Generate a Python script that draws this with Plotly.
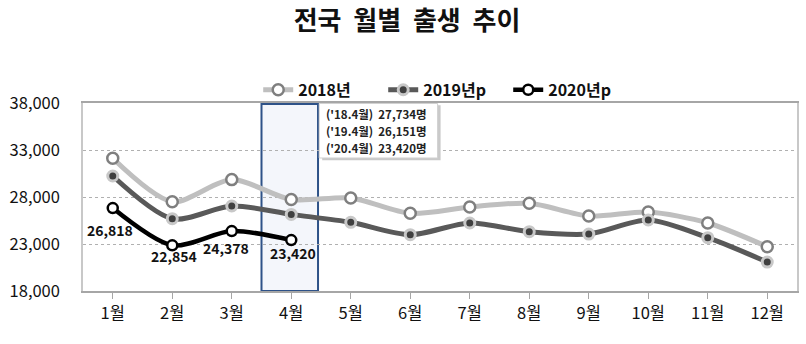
import plotly.graph_objects as go

# Monthly births, nationwide
months = ["1월", "2월", "3월", "4월", "5월", "6월", "7월", "8월", "9월", "10월", "11월", "12월"]
births_2018 = [32117, 27500, 29850, 27734, 27894, 26263, 26936, 27328, 25977, 26403, 25234, 22710]
births_2019 = [30234, 25690, 27041, 26151, 25306, 23987, 25234, 24307, 24061, 25551, 23668, 21082]
births_2020 = [26818, 22854, 24378, 23420]
y_ticks = [18000, 23000, 28000, 33000, 38000]

x_pos = list(range(1, 13))
FONT = "Noto Sans CJK KR"

fig = go.Figure()

fig.add_trace(go.Scatter(
    x=x_pos, y=births_2018, name="2018년", mode="lines+markers",
    line=dict(color="#bfbfbf", width=5, shape="spline", smoothing=0.8),
    marker=dict(symbol="circle", size=11, color="white", line=dict(color="#7f7f7f", width=2.5)),
))
fig.add_trace(go.Scatter(
    x=x_pos, y=births_2019, name="2019년p", mode="lines+markers",
    line=dict(color="#595959", width=5, shape="spline", smoothing=0.8),
    marker=dict(symbol="circle", size=10, color="#404040", line=dict(color="#c8c8c8", width=3)),
))
fig.add_trace(go.Scatter(
    x=x_pos[:len(births_2020)], y=births_2020, name="2020년p", mode="lines+markers",
    line=dict(color="#000000", width=4.5, shape="spline", smoothing=0.8),
    marker=dict(symbol="circle", size=10, color="white", line=dict(color="#000000", width=2.5)),
))

# value labels for 2020
label_offsets = [(-3, -22), (2, -11), (-6, -17), (2, -13)]
for i, v in enumerate(births_2020):
    dx, dy = label_offsets[i]
    fig.add_annotation(
        x=x_pos[i], y=v, text=f"{v:,}", showarrow=False,
        xshift=dx, yshift=dy,
        font=dict(family=FONT, size=14, color="#111111", weight="bold"),
    )

# highlighted April column
fig.add_shape(type="rect", xref="x", yref="y", x0=3.5, x1=4.45, y0=18000, y1=37900,
              fillcolor="#f4f6fb", line=dict(color="#2e5288", width=2), layer="below")

# April comparison box (shadow + box)
fig.add_shape(type="rect", xref="x", yref="y", x0=4.52, x1=6.51, y0=31900, y1=37750,
              fillcolor="#c9c9c9", line=dict(width=0), layer="above")
fig.add_shape(type="rect", xref="x", yref="y", x0=4.47, x1=6.46, y0=32150, y1=37950,
              fillcolor="white", line=dict(color="#d0d0d0", width=1), layer="above")
apr = [("'18.4월", births_2018[3]), ("'19.4월", births_2019[3]), ("'20.4월", births_2020[3])]
for k, (lab, v) in enumerate(apr):
    fig.add_annotation(
        x=4.55, y=36850 - k * 1800, xanchor="left", showarrow=False,
        text=f"({lab})  {v:,}명",
        font=dict(family=FONT, size=11.5, color="#222222", weight="bold"),
    )

fig.update_layout(
    width=806, height=344,
    margin=dict(l=83, r=7, t=103, b=53),
    paper_bgcolor="white", plot_bgcolor="white",
    title=dict(text="전국  월별  출생  추이", x=0.505, xanchor="center", y=0.938, yanchor="middle",
               font=dict(family=FONT, size=26, color="#111111", weight="bold")),
    legend=dict(orientation="h", x=0.508, xanchor="center", y=1.07, yanchor="middle",
                font=dict(family=FONT, size=16, color="#111111", weight="bold"),
                bgcolor="rgba(0,0,0,0)", itemwidth=30, tracegroupgap=0,
                entrywidth=80, entrywidthmode="pixels"),
    showlegend=True,
)

fig.update_xaxes(
    range=[0.5, 12.5], tickmode="array", tickvals=x_pos, ticktext=months,
    showgrid=False, zeroline=False,
    showline=True, linecolor="#a6a6a6", linewidth=1.5, mirror=True,
    ticks="outside", ticklen=6, tickcolor="#a6a6a6",
    tickfont=dict(family=FONT, size=16.5, color="#111111"),
)
fig.update_yaxes(
    range=[18000, 38000], tickmode="array", tickvals=y_ticks,
    ticktext=[f"{t:,}" for t in y_ticks],
    showgrid=True, gridcolor="#b0b0b0", griddash="dot", gridwidth=1,
    zeroline=False, showline=True, linecolor="#c8c8c8", linewidth=1.5, mirror=True,
    ticks="", ticklabelstandoff=18,
    tickfont=dict(family=FONT, size=16.5, color="#111111"),
)

fig.write_html("out.html")
